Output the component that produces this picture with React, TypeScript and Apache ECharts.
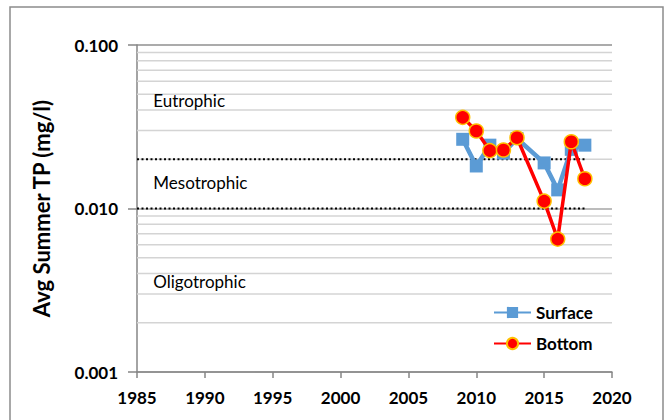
import React, { useEffect, useRef } from "react";
import * as echarts from "echarts";

// ---- data ----
const surfaceYears = [2009, 2010, 2011, 2012, 2013, 2015, 2016, 2017, 2018];
const surfaceTP = [0.0265, 0.0182, 0.0244, 0.0218, 0.0268, 0.019, 0.013, 0.023, 0.0244];
const bottomYears = [2009, 2010, 2011, 2012, 2013, 2015, 2016, 2017, 2018];
const bottomTP = [0.0361, 0.0298, 0.0226, 0.0228, 0.0271, 0.0111, 0.0065, 0.0256, 0.0152];

const trophicBounds = [0.02, 0.01];
const boundYears = [1985, 2018];

const zoneLabels = ["Eutrophic", "Mesotrophic", "Oligotrophic"];
const zoneLabelTP = [0.046, 0.0145, 0.00356];
const zoneLabelYear = 1986.2;

const minorGridTP = [
  0.002, 0.003, 0.004, 0.005, 0.006, 0.007, 0.008, 0.009,
  0.02, 0.03, 0.04, 0.05, 0.06, 0.07, 0.08, 0.09,
];

const xMin = 1985;
const xMax = 2020;
const xInterval = 5;
const yMin = 0.001;
const yMax = 0.1;

const FONT = "Lato";

export default function App() {
  const ref = useRef<HTMLDivElement>(null);

  useEffect(() => {
    if (!ref.current) return;
    const chart = echarts.init(ref.current, null, { renderer: "svg" });

    const pair = (xs: number[], ys: number[]) => xs.map((x, i) => [x, ys[i]]);

    const gridSeries = minorGridTP.map((v, i) => ({
      name: "grid" + i,
      type: "line",
      data: [
        [xMin, v],
        [xMax, v],
      ],
      symbol: "none",
      silent: true,
      z: 1,
      lineStyle: { color: "#d4d4d4", width: 1.5 },
    }));

    const boundSeries = trophicBounds.map((v, i) => ({
      name: "bound" + i,
      type: "line",
      data: boundYears.map((y) => [y, v]),
      symbol: "none",
      silent: true,
      z: 2,
      lineStyle: { color: "#000", width: 2, type: [2, 2.5] },
      ...(i === 0
        ? {
            markPoint: {
              silent: true,
              symbol: "circle",
              symbolSize: 0,
              label: {
                show: true,
                position: "right",
                distance: 0,
                color: "#000",
                fontSize: 17,
                fontFamily: FONT,
                formatter: (p: any) => p.name,
              },
              data: zoneLabels.map((n, k) => ({
                name: n,
                coord: [zoneLabelYear, zoneLabelTP[k]],
              })),
            },
          }
        : {}),
    }));

    chart.setOption({
      animation: false,
      backgroundColor: "#fff",
      graphic: [
        {
          type: "rect",
          shape: { x: 10, y: 7, width: 653, height: 430 },
          style: { fill: "none", stroke: "#8c8c8c", lineWidth: 1.5 },
          silent: true,
        },
      ],
      grid: { left: 137, right: 57, top: 45, bottom: 48 },
      legend: {
        data: ["Surface", "Bottom"],
        orient: "vertical",
        left: 488,
        top: 299,
        itemWidth: 37,
        itemHeight: 14,
        itemGap: 14,
        textStyle: { fontSize: 17, fontWeight: "bold", color: "#000", fontFamily: FONT },
      },
      xAxis: {
        type: "value",
        min: xMin,
        max: xMax,
        interval: xInterval,
        splitLine: { show: false },
        axisLine: { show: true, lineStyle: { color: "#868686", width: 1.5 } },
        axisTick: { show: true, length: 6, lineStyle: { color: "#868686", width: 1.5 } },
        axisLabel: {
          fontSize: 17,
          fontWeight: "bold",
          color: "#000",
          fontFamily: FONT,
          margin: 17,
          formatter: (v: number) => String(v),
        },
      },
      yAxis: {
        type: "log",
        logBase: 10,
        min: yMin,
        max: yMax,
        name: "Avg Summer TP (mg/l)",
        nameLocation: "middle",
        nameGap: 85,
        nameTextStyle: { fontSize: 22, fontWeight: "bold", color: "#000", fontFamily: FONT },
        axisLine: { show: true, lineStyle: { color: "#868686", width: 1.5 } },
        axisTick: { show: true, length: 9, lineStyle: { color: "#868686", width: 1.5 } },
        splitLine: { show: true, lineStyle: { color: "#a6a6a6", width: 1.5 } },
        axisLabel: {
          fontSize: 17,
          fontWeight: "bold",
          color: "#000",
          fontFamily: FONT,
          margin: 19,
          formatter: (v: number) => v.toFixed(3),
        },
      },
      series: [
        ...gridSeries,
        ...boundSeries,
        {
          name: "Surface",
          type: "line",
          data: pair(surfaceYears, surfaceTP),
          symbol: "rect",
          symbolSize: 13,
          z: 3,
          lineStyle: { color: "#5B9BD5", width: 4.5 },
          itemStyle: { color: "#5B9BD5" },
        },
        {
          name: "Bottom",
          type: "line",
          data: pair(bottomYears, bottomTP),
          symbol: "circle",
          symbolSize: 14,
          z: 4,
          lineStyle: { color: "#FF0000", width: 3.5 },
          itemStyle: { color: "#FF0000", borderColor: "#FFC000", borderWidth: 1.5 },
        },
      ],
    });

    return () => chart.dispose();
  }, []);

  return (
    <div
      ref={ref}
      style={{ position: "absolute", left: 0, top: 0, width: 669, height: 420 }}
    />
  );
}
